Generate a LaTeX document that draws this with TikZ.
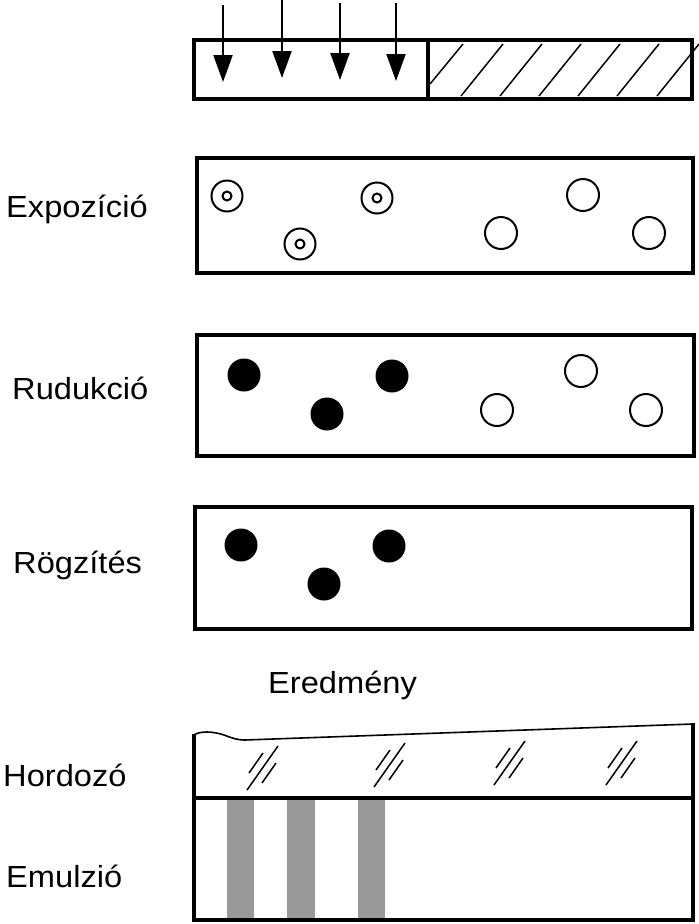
\documentclass[tikz,border=0pt]{standalone}
\usepackage{fontspec}
\setmainfont{Liberation Sans}[FakeStretch=1.07]
\usetikzlibrary{arrows.meta}
\begin{document}
\begin{tikzpicture}[x=1pt,y=-1pt,
  box/.style={line width=3.5pt},
  lbl/.style={anchor=base west,inner sep=0pt,font=\fontsize{30.5}{36}\selectfont},
  ray/.style={line width=2.2pt,-{Triangle[length=27pt,width=19pt]}},
  hatch/.style={line width=1.5pt},
  grain/.style={line width=2pt},
  dev/.style={fill=black},
  band/.style={fill=black!40}]
\useasboundingbox (0,0) rectangle (699,924);
% top exposure mask
\draw[box] (194,40) rectangle (692,99);
\draw[box] (428,40) -- (428,99);
\foreach \x in {461,500,539,578,617,657}
  \draw[hatch] (\x,96) -- ++(42,-52);
\draw[hatch] (430,84) -- (463,44);
\draw[ray] (223,5) -- (223,82);
\draw[ray] (282,0) -- (282,78);
\draw[ray] (340,3) -- (340,80);
\draw[ray] (396,3) -- (396,81);
% Expozicio
\node[lbl] (t1) at (6,217) {Expozíció};
\draw[box] (197,158) rectangle (693,273);
\foreach \p in {(227,196),(300,244),(377,198)}{
  \draw[grain] \p circle (15.5);
  \draw[grain] \p circle (4.5);}
\foreach \p in {(501,233),(583,195),(649,233)}
  \draw[grain] \p circle (16);
% Redukcio
\node[lbl] (t2) at (12,399) {Rudukció};
\draw[box] (197,335) rectangle (694,456);
\foreach \p in {(244,375),(327,414),(392,376)}
  \fill[dev] \p circle (16.5);
\foreach \p in {(497,410),(581,371),(646,410)}
  \draw[grain] \p circle (16);
% Rogzites
\node[lbl] (t3) at (13,573) {Rögzítés};
\draw[box] (195,507) rectangle (692,629);
\foreach \p in {(241,545),(324,584),(389,546)}
  \fill[dev] \p circle (16.5);
% Eredmeny
\node[lbl] (t4) at (268,693) {Eredmény};
\node[lbl] (t5) at (3,786) {Hordozó};
\node[lbl] (t6) at (6,887) {Emulzió};
\fill[band] (227,798) rectangle (254,920);
\fill[band] (287,798) rectangle (315,920);
\fill[band] (358,798) rectangle (385,920);
\draw[line width=1.6pt] (194,735) .. controls (200,731) and (212,731) .. (224,735)
  .. controls (232,738) and (237,740) .. (245,740) -- (693,724);
\draw[box] (194,734) -- (194,920) -- (693,920) -- (693,723);
\draw[box] (194,798) -- (693,798);
\foreach \cx/\cy in {263/768,390/765,510/763,622/763}{
  \draw[hatch] (\cx-16,\cy+22) -- (\cx+15,\cy-22);
  \draw[hatch] (\cx-14,\cy+5) -- (\cx,\cy-15);
  \draw[hatch] (\cx-1,\cy+15) -- (\cx+13,\cy-5);}
\end{tikzpicture}
\end{document}
